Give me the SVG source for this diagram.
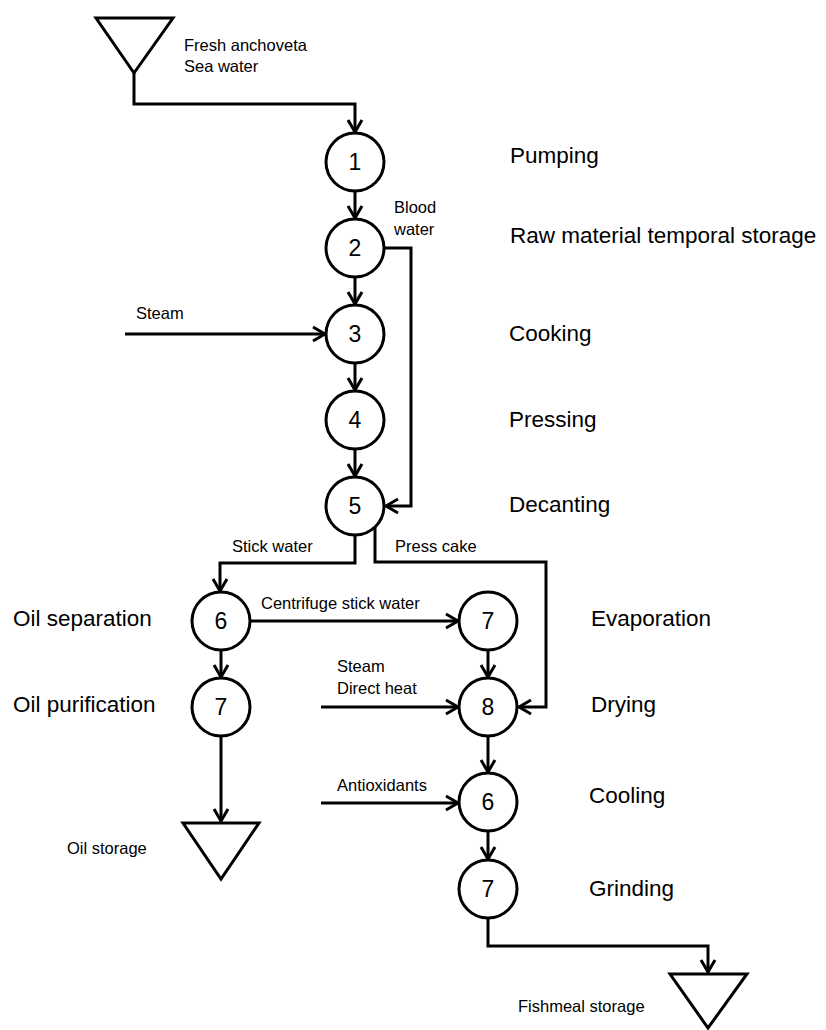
<svg xmlns="http://www.w3.org/2000/svg" width="826" height="1030" viewBox="0 0 826 1030">
<style>
.n{fill:#fff;stroke:#000;stroke-width:3}
.d{font-family:"Liberation Sans",Arial,sans-serif;font-size:23px;text-anchor:middle;fill:#000}
.c{fill:none;stroke:#000;stroke-width:3;stroke-linejoin:miter}
.a{marker-end:url(#ah)}
.s{font-family:"Liberation Sans",Arial,sans-serif;font-size:16.5px;fill:#000}
.l{font-family:"Liberation Sans",Arial,sans-serif;font-size:22.5px;fill:#000}
</style>
<defs>
<marker id="ah" markerUnits="userSpaceOnUse" viewBox="-16 -10 20 20" markerWidth="20" markerHeight="20" refX="0" refY="0" orient="auto">
<path d="M-12,-7 L0,0 L-12,7" fill="none" stroke="#000" stroke-width="3" stroke-linejoin="round"/>
</marker>
</defs>
<rect width="826" height="1030" fill="#fff"/>
<g id="connectors">
<path class="c a" d="M134,73 V104 H355 V132"/>
<path class="c a" d="M355,191 V218"/>
<path class="c a" d="M355,277 V304"/>
<path class="c a" d="M355,363 V390"/>
<path class="c a" d="M355,449 V476"/>
<path class="c a" d="M384,248 H411 V506 H386"/>
<path class="c a" d="M125,334 H325"/>
<path class="c a" d="M355,535 V563 H220 V591"/>
<path class="c a" d="M375,527 V562 H546 V707 H519"/>
<path class="c a" d="M250,621 H458"/>
<path class="c a" d="M221,650 V677"/>
<path class="c a" d="M488,650 V677"/>
<path class="c a" d="M321,707 H458"/>
<path class="c a" d="M488,736 V772"/>
<path class="c a" d="M321,803 H458"/>
<path class="c a" d="M488,831 V859"/>
<path class="c a" d="M221,736 V821"/>
<path class="c a" d="M488,918 V946 H708 V972"/>
</g>
<g id="source">
<polygon class="n" points="96,18 173,18 134,73"/>
<text class="s" x="184" y="51">Fresh anchoveta</text>
<text class="s" x="184" y="72">Sea water</text>
</g>
<g id="n1"><circle class="n" cx="355" cy="162" r="29"/><text class="d" x="355" y="170">1</text></g>
<g id="n2"><circle class="n" cx="355" cy="248" r="29"/><text class="d" x="355" y="256">2</text></g>
<g id="n3"><circle class="n" cx="355" cy="334" r="29"/><text class="d" x="355" y="342">3</text></g>
<g id="n4"><circle class="n" cx="355" cy="420" r="29"/><text class="d" x="355" y="428">4</text></g>
<g id="n5"><circle class="n" cx="355" cy="506" r="29"/><text class="d" x="355" y="514">5</text></g>
<g id="n6"><circle class="n" cx="221" cy="621" r="29"/><text class="d" x="221" y="629">6</text></g>
<g id="n7a"><circle class="n" cx="221" cy="707" r="29"/><text class="d" x="221" y="715">7</text></g>
<g id="n7b"><circle class="n" cx="488" cy="621" r="29"/><text class="d" x="488" y="629">7</text></g>
<g id="n8"><circle class="n" cx="488" cy="707" r="29"/><text class="d" x="488" y="715">8</text></g>
<g id="n6b"><circle class="n" cx="488" cy="802" r="29"/><text class="d" x="488" y="810">6</text></g>
<g id="n7c"><circle class="n" cx="488" cy="889" r="29"/><text class="d" x="488" y="897">7</text></g>
<g id="oil-storage">
<polygon class="n" points="183,823 259,823 221,879"/>
<text class="s" x="67" y="854">Oil storage</text>
</g>
<g id="fishmeal-storage">
<polygon class="n" points="670,974 747,974 708,1028"/>
<text class="s" x="518" y="1012">Fishmeal storage</text>
</g>
<g id="flow-labels">
<text class="s" x="394" y="213">Blood</text>
<text class="s" x="394" y="235">water</text>
<text class="s" x="136" y="319">Steam</text>
<text class="s" x="232" y="552">Stick water</text>
<text class="s" x="395" y="552">Press cake</text>
<text class="s" x="261" y="609">Centrifuge stick water</text>
<text class="s" x="337" y="672">Steam</text>
<text class="s" x="337" y="694">Direct heat</text>
<text class="s" x="337" y="791">Antioxidants</text>
</g>
<g id="step-labels">
<text class="l" x="510" y="163">Pumping</text>
<text class="l" x="510" y="243">Raw material temporal storage</text>
<text class="l" x="509" y="341">Cooking</text>
<text class="l" x="509" y="427">Pressing</text>
<text class="l" x="509" y="512">Decanting</text>
<text class="l" x="13" y="626">Oil separation</text>
<text class="l" x="13" y="712">Oil purification</text>
<text class="l" x="591" y="626">Evaporation</text>
<text class="l" x="591" y="712">Drying</text>
<text class="l" x="589" y="803">Cooling</text>
<text class="l" x="589" y="896">Grinding</text>
</g>
</svg>
